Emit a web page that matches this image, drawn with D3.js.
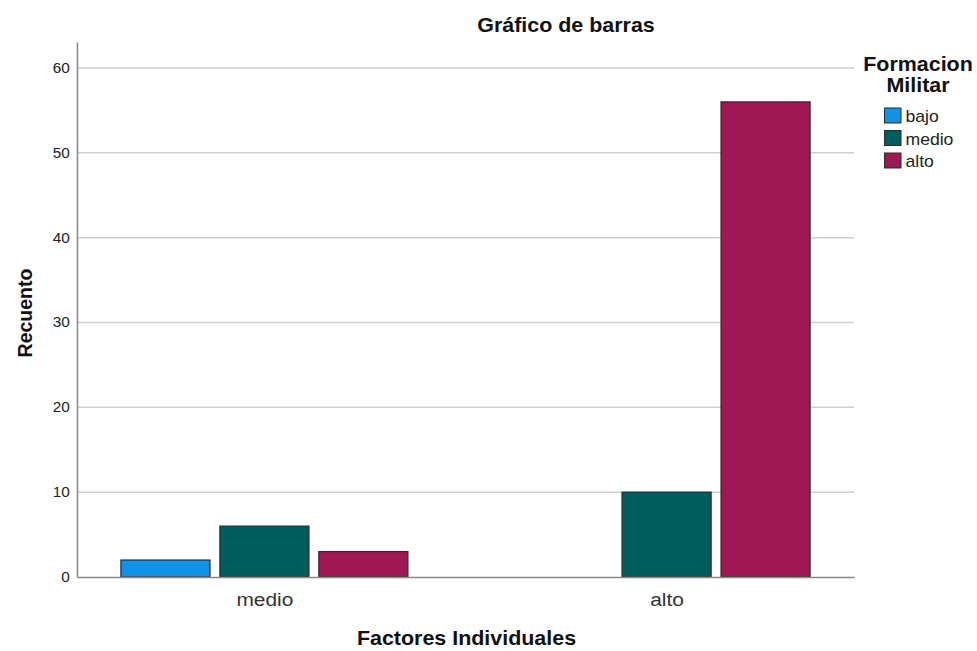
<!DOCTYPE html>
<html>
<head>
<meta charset="utf-8">
<script src="https://cdn.jsdelivr.net/npm/d3@7"></script>
<style>
  body { margin: 0; background: #fff; }
  svg { font-family: 'Liberation Sans', Arial, sans-serif; }
</style>
</head>
<body>
<svg width="977" height="651"></svg>
<script>
const categories = ['medio', 'alto'];
const series = ['bajo', 'medio', 'alto'];
const values = {
  medio: [2, 6, 3],
  alto: [0, 10, 56]
};
const yTicks = [0, 10, 20, 30, 40, 50, 60];
const colors = ['#1192e8', '#005d5d', '#9f1853'];

let svg = d3.select('svg');

const plot = {left: 77, right: 854, top: 42, bottom: 577},
    stretch = 1.1; // text in the picture is a bit wider than tall

let x = d3.scalePoint().domain(categories).range([plot.left, plot.right]).padding(0.466),
    xs = d3.scaleBand().domain(series).range([-143.5, 143.5]).paddingInner(0.1).paddingOuter(0),
    y = d3.scaleLinear().domain([0, 63.06]).range([plot.bottom, plot.top]);

const label = function(px, py, size, bold, txt, anchor) {
  return svg.append('text')
    .attr('transform', `translate(${px}, ${py}) scale(${stretch}, 1)`)
    .attr('text-anchor', anchor || 'middle')
    .attr('font-size', size)
    .attr('font-weight', bold ? 'bold' : 'normal')
    .attr('fill', '#111')
    .text(txt);
}

// gridlines
svg.append('g')
  .selectAll('line')
  .data(yTicks.filter(d => d > 0))
  .enter().append('line')
    .attr('x1', plot.left)
    .attr('x2', plot.right)
    .attr('y1', d => y(d))
    .attr('y2', d => y(d))
    .attr('stroke', '#d0d0d0')
    .attr('stroke-width', 1.5);

// y axis
let yAxis = svg.append('g')
    .attr('transform', `translate(${plot.left}, 0)`)
    .call(d3.axisLeft(y).tickValues(yTicks).tickSize(0).tickPadding(6.5));
yAxis.select('.domain').attr('stroke', '#888').attr('stroke-width', 1.5);
yAxis.selectAll('text')
    .attr('font-size', 14).attr('fill', '#222')
    .attr('font-family', "'Liberation Sans', Arial, sans-serif")
    .attr('transform', `scale(${stretch}, 1)`);

// bars
let groups = svg.append('g')
  .selectAll('g')
  .data(categories)
  .enter().append('g')
    .attr('transform', d => `translate(${x(d)}, 0)`);

groups.selectAll('rect')
  .data(c => series.map((s, i) => ({s: s, i: i, v: values[c][i]})).filter(d => d.v > 0))
  .enter().append('rect')
    .attr('x', d => xs(d.s))
    .attr('y', d => y(d.v))
    .attr('width', xs.bandwidth())
    .attr('height', d => y(0) - y(d.v))
    .attr('fill', d => colors[d.i])
    .attr('stroke', '#2b2b2b')
    .attr('stroke-width', 1.2);

// x axis
let xAxis = svg.append('g')
    .attr('transform', `translate(0, ${plot.bottom})`)
    .call(d3.axisBottom(x).tickSize(0).tickPadding(15.5).tickSizeOuter(0));
xAxis.select('.domain').attr('stroke', '#888').attr('stroke-width', 1.5);
xAxis.selectAll('text')
    .attr('font-size', 19).attr('fill', '#333')
    .attr('font-family', "'Liberation Sans', Arial, sans-serif")
    .attr('transform', `scale(${stretch}, 1)`);

// titles
label(566, 32, 19.5, true, 'Gráfico de barras');
label(466.5, 645, 19.5, true, 'Factores Individuales');

svg.append('text')
  .attr('transform', 'translate(32, 313) rotate(-90)')
  .attr('text-anchor', 'middle')
  .attr('font-size', 19.5).attr('font-weight', 'bold').attr('fill', '#111')
  .text('Recuento');

// legend
label(918, 71, 19.5, true, 'Formacion');
label(918, 92, 19.5, true, 'Militar');

let items = svg.append('g').selectAll('.item')
  .data(series)
  .enter().append('g')
    .attr('class', 'item')
    .attr('transform', (d, i) => `translate(884.5, ${108 + i * 22.5})`);
items.append('rect')
  .attr('width', 16.5).attr('height', 15)
  .attr('fill', (d, i) => colors[i])
  .attr('stroke', '#2b2b2b').attr('stroke-width', 1);
items.append('text')
  .attr('transform', `translate(21, 14) scale(${stretch}, 1)`)
  .attr('font-size', 16).attr('fill', '#222')
  .text(d => d);
</script>
</body>
</html>
